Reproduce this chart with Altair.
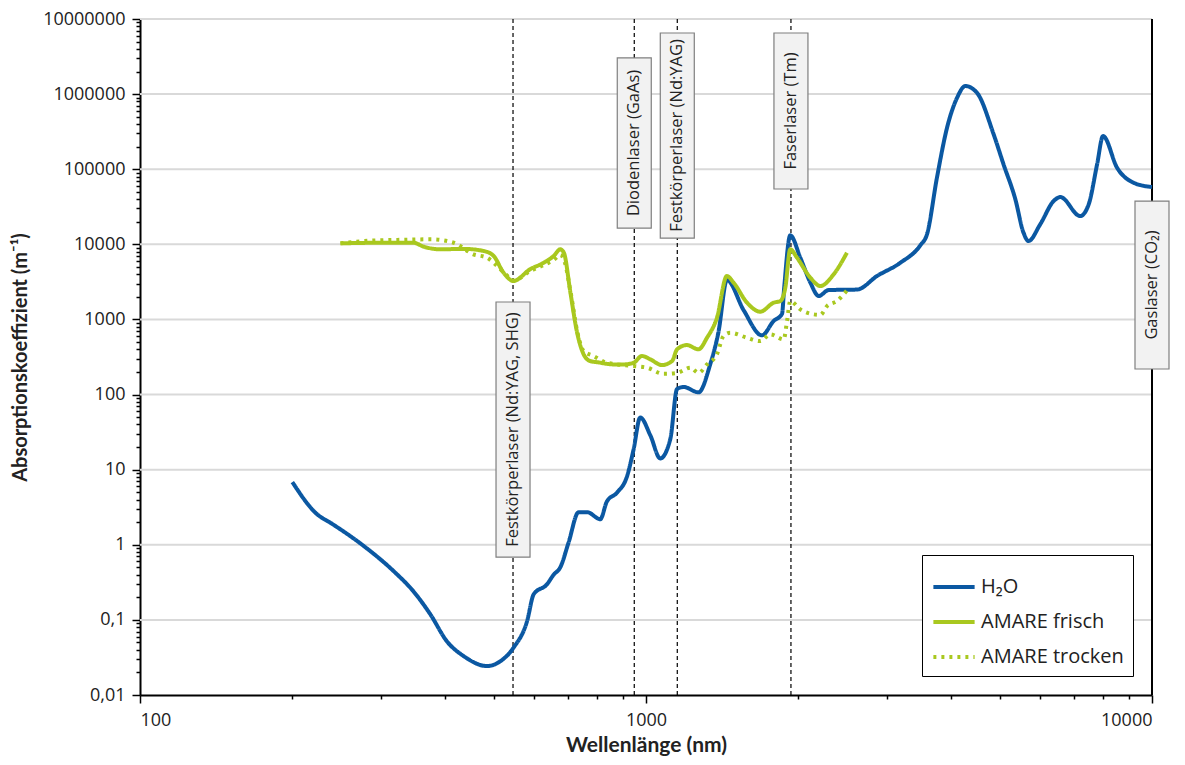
import altair as alt
import pandas as pd
import numpy as np

# ---------------- data ----------------
h2o_wl = [200, 224, 238, 277, 317, 347, 375, 404, 436, 485, 515, 547, 582, 600, 637, 657, 677,
          703, 736, 765, 812, 837, 877, 917, 945, 974, 1020, 1067, 1117, 1152, 1187, 1270, 1340,
          1391, 1445, 1560, 1695, 1787, 1857, 1875, 1928, 2018, 2113, 2194, 2296, 2612, 2861,
          3182, 3484, 3592, 3758, 3935, 4119, 4276, 4510, 4864, 5089, 5370, 5572, 5700, 6012,
          6392, 6590, 7214, 7497, 7789, 8003, 8530, 9196, 10000]
h2o_val = [6.84, 2.54, 1.96, 0.96, 0.447, 0.24, 0.118, 0.052, 0.033, 0.0243, 0.028, 0.0425,
           0.096, 0.22, 0.297, 0.40, 0.50, 1.07, 2.72, 2.72, 2.19, 3.77, 4.97, 8.1, 18.5, 49.5,
           28.6, 14.1, 25.6, 119, 126, 107, 255, 686, 3358, 1322, 614, 952, 1184, 2600, 13180,
           6637, 3083, 2050, 2462, 2500, 3784, 5690, 9700, 13600, 77000, 357000, 895000,
           1280000, 1040000, 292000, 116000, 39700, 14300, 11060, 18450, 37700, 42600, 23800,
           34100, 116000, 277000, 104700, 66100, 57900]

frisch_wl = [249, 300, 347, 364, 392, 436, 478, 500, 523, 547, 590, 628, 657, 677, 688, 709,
             731, 753, 776, 800, 863, 903, 945, 982, 1020, 1075, 1126, 1152, 1205, 1270, 1320,
             1381, 1445, 1490, 1584, 1682, 1787, 1843, 1885, 1928, 1988, 2113, 2211, 2349, 2495]
frisch_val = [10300, 10500, 10500, 9290, 8580, 8700, 8150, 6990, 4190, 3250, 4650, 5690, 6990,
              8580, 7760, 2270, 665, 343, 279, 270, 252, 252, 265, 326, 294, 247, 279, 400, 456,
              400, 570, 1054, 3780, 3080, 1670, 1268, 1670, 1760, 2640, 8600, 6640, 3590, 2786,
              3990, 7730]

trocken_wl = [249, 277, 330, 375, 417, 456, 485, 508, 530, 547, 590, 628, 657, 677, 690, 709,
              731, 753, 788, 837, 945, 1005, 1083, 1152, 1224, 1270, 1320, 1381, 1423, 1467,
              1584, 1682, 1761, 1871, 1900, 1928, 2018, 2143, 2211, 2279, 2385, 2495]
trocken_val = [10300, 11060, 11500, 11670, 10500, 7360, 6640, 5140, 3900, 3300, 4400, 5300,
               6200, 7200, 6000, 2400, 700, 380, 326, 265, 240, 228, 189, 194, 228, 194, 252,
               343, 601, 665, 570, 515, 634, 543, 952, 1760, 1362, 1170, 1150, 1508, 1760, 2440]

series_names = ["H₂O", "AMARE frisch", "AMARE trocken"]
series_colors = ["#0B58A2", "#A9C81F", "#A9C81F"]
series_dash = [[1, 0], [1, 0], [3, 5]]

# laser annotations
laser_labels = ["Festkörperlaser (Nd:YAG, SHG)", "Diodenlaser (GaAs)",
                "Festkörperlaser (Nd:YAG)", "Faserlaser (Tm)", "Gaslaser (CO₂)"]
laser_wl = [546, 948, 1153, 1934, 10000]
laser_box_lo = [0.686, 16480, 12130, 54500, 219]
laser_box_hi = [1706, 3030000, 6510000, 6510000, 37700]
laser_dashed = [True, True, True, True, False]

grid_vals = [0.1, 1, 10, 100, 1000, 10000, 100000, 1000000, 10000000]
x_tick_vals = [m * 10.0 ** e for e in range(2, 4) for m in range(1, 10)] + [10000]
y_tick_vals = [m * 10.0 ** e for e in range(-2, 7) for m in range(1, 10)] + [1e7]

# ---------------- tables ----------------
curves = pd.concat([
    pd.DataFrame({"wl": h2o_wl, "val": h2o_val, "serie": series_names[0]}),
    pd.DataFrame({"wl": frisch_wl, "val": frisch_val, "serie": series_names[1]}),
    pd.DataFrame({"wl": trocken_wl, "val": trocken_val, "serie": series_names[2]}),
])
box_factor = 10 ** (17 / 506)
lasers = pd.DataFrame({
    "label": laser_labels, "wl": laser_wl, "lo": laser_box_lo, "hi": laser_box_hi,
    "dashed": laser_dashed,
})
lasers["x1"] = lasers["wl"] / box_factor
lasers["x2"] = lasers["wl"] * box_factor
lasers["mid"] = np.sqrt(lasers["lo"] * lasers["hi"])
grid = pd.DataFrame({"g": grid_vals})

FONT = "Open Sans"
TITLE_FONT = "Lato"

xscale = alt.Scale(type="log", domain=[100, 10000], nice=False)
yscale = alt.Scale(type="log", domain=[0.01, 1e7], nice=False)

is_major = "abs(log(datum.value)/LN10 - round(log(datum.value)/LN10)) < 0.001"

x_axis = alt.Axis(values=x_tick_vals, title="Wellenlänge (nm)", grid=False,
                  labelExpr=f"{is_major} ? format(datum.value, 'd') : ''",
                  labelFont=FONT, labelFontSize=18, labelColor="#222", labelPadding=8,
                  domainColor="black", domainWidth=2, tickColor="black", tickWidth=1.5,
                  tickSize={"condition": {"test": is_major, "value": 8}, "value": 4},
                  titleFont=TITLE_FONT, titleFontSize=21, titleFontWeight="bold",
                  titleColor="#222", titlePadding=5)
y_axis = alt.Axis(values=y_tick_vals, title="Absorptionskoeffizient (m⁻¹)", grid=False,
                  labelExpr=(f"{is_major} ? (datum.value < 1 ? replace(format(datum.value, '.2~f'), '.', ',')"
                             " : format(datum.value, 'd')) : ''"),
                  labelFont=FONT, labelFontSize=18, labelColor="#222", labelPadding=7,
                  domainColor="black", domainWidth=2, tickColor="black", tickWidth=1.5,
                  tickSize={"condition": {"test": is_major, "value": 8}, "value": 4},
                  titleFont=TITLE_FONT, titleFontSize=20, titleFontWeight="bold",
                  titleColor="#222", titlePadding=12)

gridlines = alt.Chart(grid).mark_rule(color="#D9D9D9", strokeWidth=2).encode(
    y=alt.Y("g:Q", scale=yscale, axis=y_axis)
)

base_axes = alt.Chart(grid).mark_rule(opacity=0).encode(
    x=alt.X("g:Q", scale=xscale, axis=x_axis),
    y=alt.Y("g:Q", scale=yscale, axis=y_axis),
)

dashed = alt.Chart(lasers).transform_filter("datum.dashed").mark_rule(
    color="black", strokeWidth=1.2, strokeDash=[4, 3]
).encode(x=alt.X("wl:Q", scale=xscale))

solid = alt.Chart(lasers).transform_filter("!datum.dashed").mark_rule(
    color="black", strokeWidth=2
).encode(x=alt.X("wl:Q", scale=xscale))

legend = alt.Legend(title=None, orient="none", legendX=782, legendY=536,
                    fillColor="white", strokeColor="black", padding=9,
                    labelFont=FONT, labelFontSize=20, labelColor="#222", labelLimit=300,
                    symbolType="stroke", symbolSize=1700, symbolStrokeWidth=4,
                    rowPadding=2, labelOffset=4)

lines = alt.Chart(curves).mark_line(strokeWidth=4, interpolate="monotone",
                                    strokeCap="butt").encode(
    x=alt.X("wl:Q", scale=xscale),
    y=alt.Y("val:Q", scale=yscale),
    color=alt.Color("serie:N", scale=alt.Scale(domain=series_names, range=series_colors),
                    legend=legend),
    strokeDash=alt.StrokeDash("serie:N", scale=alt.Scale(domain=series_names, range=series_dash),
                              legend=legend),
    detail="serie:N",
    order=alt.Order("wl:Q"),
)

boxes = alt.Chart(lasers).mark_rect(fill="#F2F2F2", stroke="#7F7F7F", strokeWidth=1.2).encode(
    x=alt.X("x1:Q", scale=xscale), x2="x2:Q",
    y=alt.Y("lo:Q", scale=yscale), y2="hi:Q",
)

labels = alt.Chart(lasers).mark_text(angle=270, font=FONT, fontSize=16.5, color="#222",
                                     align="center", baseline="middle").encode(
    x=alt.X("wl:Q", scale=xscale),
    y=alt.Y("mid:Q", scale=yscale),
    text="label:N",
)

chart = alt.layer(gridlines, base_axes, dashed, solid, lines, boxes, labels).properties(
    width=1012, height=676,
    autosize=alt.AutoSizeParams(type="none"),
    padding={"left": 132, "top": 11, "right": 22, "bottom": 61},
).configure_view(stroke=None).configure(background="white")

chart.save("out.html", embed_options={"renderer": "svg", "actions": False})
